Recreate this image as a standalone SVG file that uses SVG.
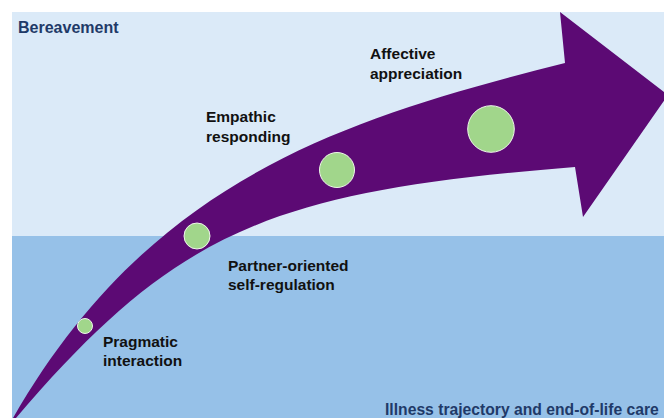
<svg xmlns="http://www.w3.org/2000/svg" width="664" height="418" viewBox="0 0 664 418">
  <style>
    .zone { font-family: "Liberation Sans", Arial, sans-serif; font-weight: bold; font-size: 16px; fill: #1F3A68; }
    .lbl { font-family: "Liberation Sans", Arial, sans-serif; font-weight: bold; font-size: 15.5px; fill: #111111; }
    .dot { fill: #A1D68B; stroke: #EEF6EA; stroke-width: 1; }
  </style>
  <rect x="0" y="0" width="664" height="418" fill="#FFFFFF"/>
  <g id="zones">
    <rect x="12" y="12" width="652" height="224" fill="#DBEAF8"/>
    <rect x="12" y="236" width="652" height="182" fill="#96C1E8"/>
    <text class="zone" x="18" y="33">Bereavement</text>
    <text class="zone" x="385" y="415" style="font-size:15.7px">Illness trajectory and end-of-life care</text>
  </g>
  <g id="connectors">
    <path id="trajectory-arrow" fill="#5C0A74" d="M13,418 C150,180 340,120 565,63 L560,12 L668,95 L583,217 L575,167 C275,191 178,228 16,418 Z"/>
  </g>
  <g id="node-pragmatic">
    <circle class="dot" cx="85" cy="326" r="7.5"/>
    <text class="lbl" x="103" y="347">Pragmatic</text>
    <text class="lbl" x="103" y="366">interaction</text>
  </g>
  <g id="node-partner">
    <circle class="dot" cx="197" cy="236" r="13"/>
    <text class="lbl" x="228" y="271">Partner-oriented</text>
    <text class="lbl" x="228" y="290">self-regulation</text>
  </g>
  <g id="node-empathic">
    <circle class="dot" cx="337" cy="170" r="17.5"/>
    <text class="lbl" x="206" y="122">Empathic</text>
    <text class="lbl" x="206" y="142">responding</text>
  </g>
  <g id="node-affective">
    <circle class="dot" cx="491" cy="129" r="23.3"/>
    <text class="lbl" x="370" y="59">Affective</text>
    <text class="lbl" x="370" y="79">appreciation</text>
  </g>
</svg>
